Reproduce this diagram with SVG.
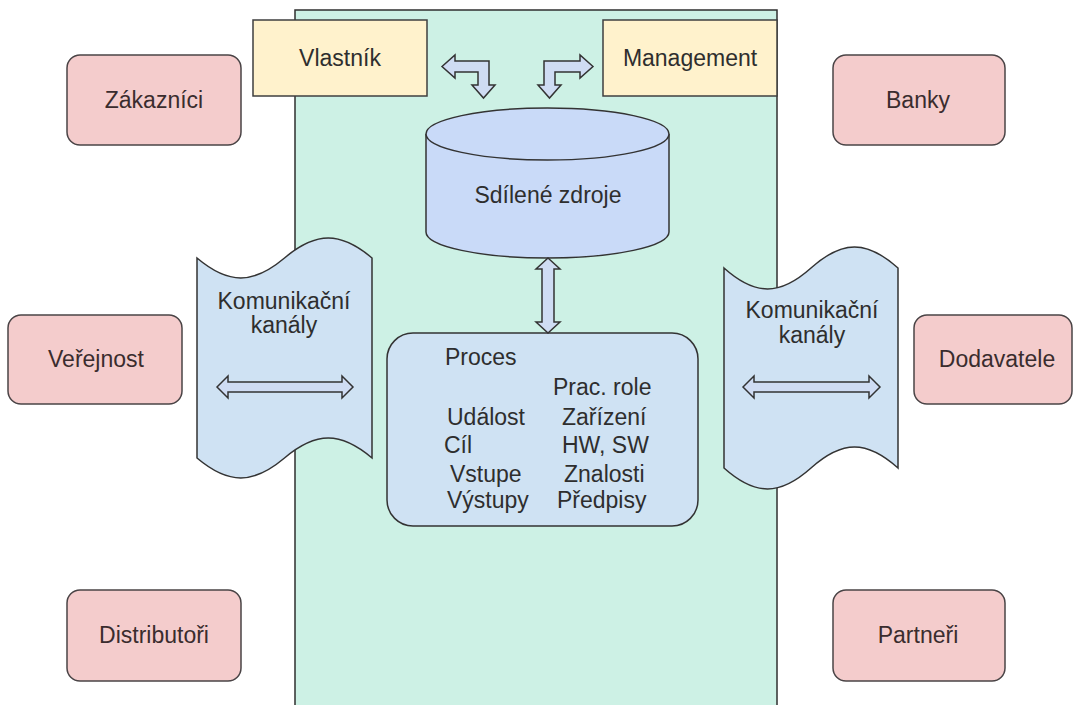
<svg xmlns="http://www.w3.org/2000/svg" width="1074" height="705" viewBox="0 0 1074 705">
  <style>
    text { font-family: "Liberation Sans", Arial, sans-serif; font-size: 23px; fill: #2e2e2e; }
    .mid { text-anchor: middle; }
    .ext { fill: #f4cccc; stroke: #4a4446; stroke-width: 1.5; }
    .own { fill: #fff2cc; stroke: #3f3f3f; stroke-width: 1.5; }
    .chan { fill: #cfe2f3; stroke: #333; stroke-width: 1.5; }
    .res { fill: #c9daf8; stroke: #333; stroke-width: 1.5; }
    .proc { fill: #cfe2f3; stroke: #333; stroke-width: 1.5; }
    .arrow { fill: #cfdcf3; stroke: #333; stroke-width: 1.5; stroke-linejoin: miter; }
    .ext-text { fill: #3a2c2e; }
  </style>

  <rect width="1074" height="705" fill="#ffffff"/>

  <!-- company area -->
  <g id="firma">
    <rect x="295" y="10" width="482" height="705" fill="#cdf1e5" stroke="#2f2f2f" stroke-width="1.5"/>
  </g>

  <!-- outer parties -->
  <g id="zakaznici">
    <rect class="ext" x="67" y="55" width="174" height="90" rx="13"/>
    <text class="mid ext-text" x="154" y="108">Zákazníci</text>
  </g>
  <g id="banky">
    <rect class="ext" x="833" y="55" width="172" height="90" rx="13"/>
    <text class="mid ext-text" x="918" y="108">Banky</text>
  </g>
  <g id="verejnost">
    <rect class="ext" x="8" y="315" width="174" height="89" rx="13"/>
    <text class="mid ext-text" x="96" y="367">Veřejnost</text>
  </g>
  <g id="dodavatele">
    <rect class="ext" x="914" y="315" width="158" height="89" rx="13"/>
    <text class="mid ext-text" x="997" y="367">Dodavatele</text>
  </g>
  <g id="distributori">
    <rect class="ext" x="67" y="590" width="174" height="91" rx="13"/>
    <text class="mid ext-text" x="154" y="643">Distributoři</text>
  </g>
  <g id="partneri">
    <rect class="ext" x="833" y="590" width="172" height="91" rx="13"/>
    <text class="mid ext-text" x="918" y="643">Partneři</text>
  </g>

  <!-- owner and management -->
  <g id="vlastnik">
    <rect class="own" x="253" y="20" width="174" height="76"/>
    <text class="mid" x="340" y="66">Vlastník</text>
  </g>
  <g id="management">
    <rect class="own" x="603" y="20" width="174" height="76"/>
    <text class="mid" x="690" y="66">Management</text>
  </g>

  <!-- shared resources -->
  <g id="zdroje">
    <path class="res" d="M426,134 A121.5,26 0 0 1 669,134 L669,232 A121.5,26 0 0 1 426,232 Z"/>
    <path class="res" fill="none" d="M426,134 A121.5,26 0 0 0 669,134"/>
    <text class="mid" x="548" y="203">Sdílené zdroje</text>
  </g>

  <!-- process -->
  <g id="proces">
    <rect class="proc" x="387" y="333" width="311" height="193" rx="26"/>
    <text x="445" y="365">Proces</text>
    <text x="553" y="395">Prac. role</text>
    <text x="447" y="425">Událost</text>
    <text x="562" y="425">Zařízení</text>
    <text x="444" y="453">Cíl</text>
    <text x="562" y="453">HW, SW</text>
    <text x="450" y="482">Vstupe</text>
    <text x="564" y="482">Znalosti</text>
    <text x="447" y="508">Výstupy</text>
    <text x="557" y="508">Předpisy</text>
  </g>

  <!-- communication channels -->
  <g id="kanaly-levo">
    <path class="chan" d="M197,258 C228.5,284.6 253,284.6 284.5,258 C316,231.4 340.5,231.4 372,258 L372,458 C340.5,431.4 316,431.4 284.5,458 C253,484.6 228.5,484.6 197,458 Z"/>
    <text class="mid" x="284" y="309">Komunikační</text>
    <text class="mid" x="284" y="333">kanály</text>
  </g>
  <g id="kanaly-pravo">
    <path class="chan" d="M724,268 C755.3,296 779.7,296 811,268 C842.3,240 866.7,240 898,268 L898,468 C866.7,440 842.3,440 811,468 C779.7,496 755.3,496 724,468 Z"/>
    <text class="mid" x="812" y="318">Komunikační</text>
    <text class="mid" x="812" y="343">kanály</text>
  </g>

  <!-- connectors -->
  <g id="spojnice">
    <path class="arrow" d="M442,66.5 L455,55 L455,61 L489,61 L489,85 L495,85 L483.5,98 L472,85 L478,85 L478,72 L455,72 L455,78 Z"/>
    <path class="arrow" d="M593,66.5 L580,55 L580,61 L544,61 L544,85 L538,85 L549.5,98 L561,85 L555,85 L555,72 L580,72 L580,78 Z"/>
    <path class="arrow" d="M548,258 L560,269 L554,269 L554,322 L560,322 L548,333 L536,322 L542,322 L542,269 L536,269 Z"/>
    <path class="arrow" d="M217,387 L228,376 L228,382 L342,382 L342,376 L353,387 L342,398 L342,392 L228,392 L228,398 Z"/>
    <path class="arrow" d="M743,387 L754,376 L754,382 L869,382 L869,376 L880,387 L869,398 L869,392 L754,392 L754,398 Z"/>
  </g>
</svg>
